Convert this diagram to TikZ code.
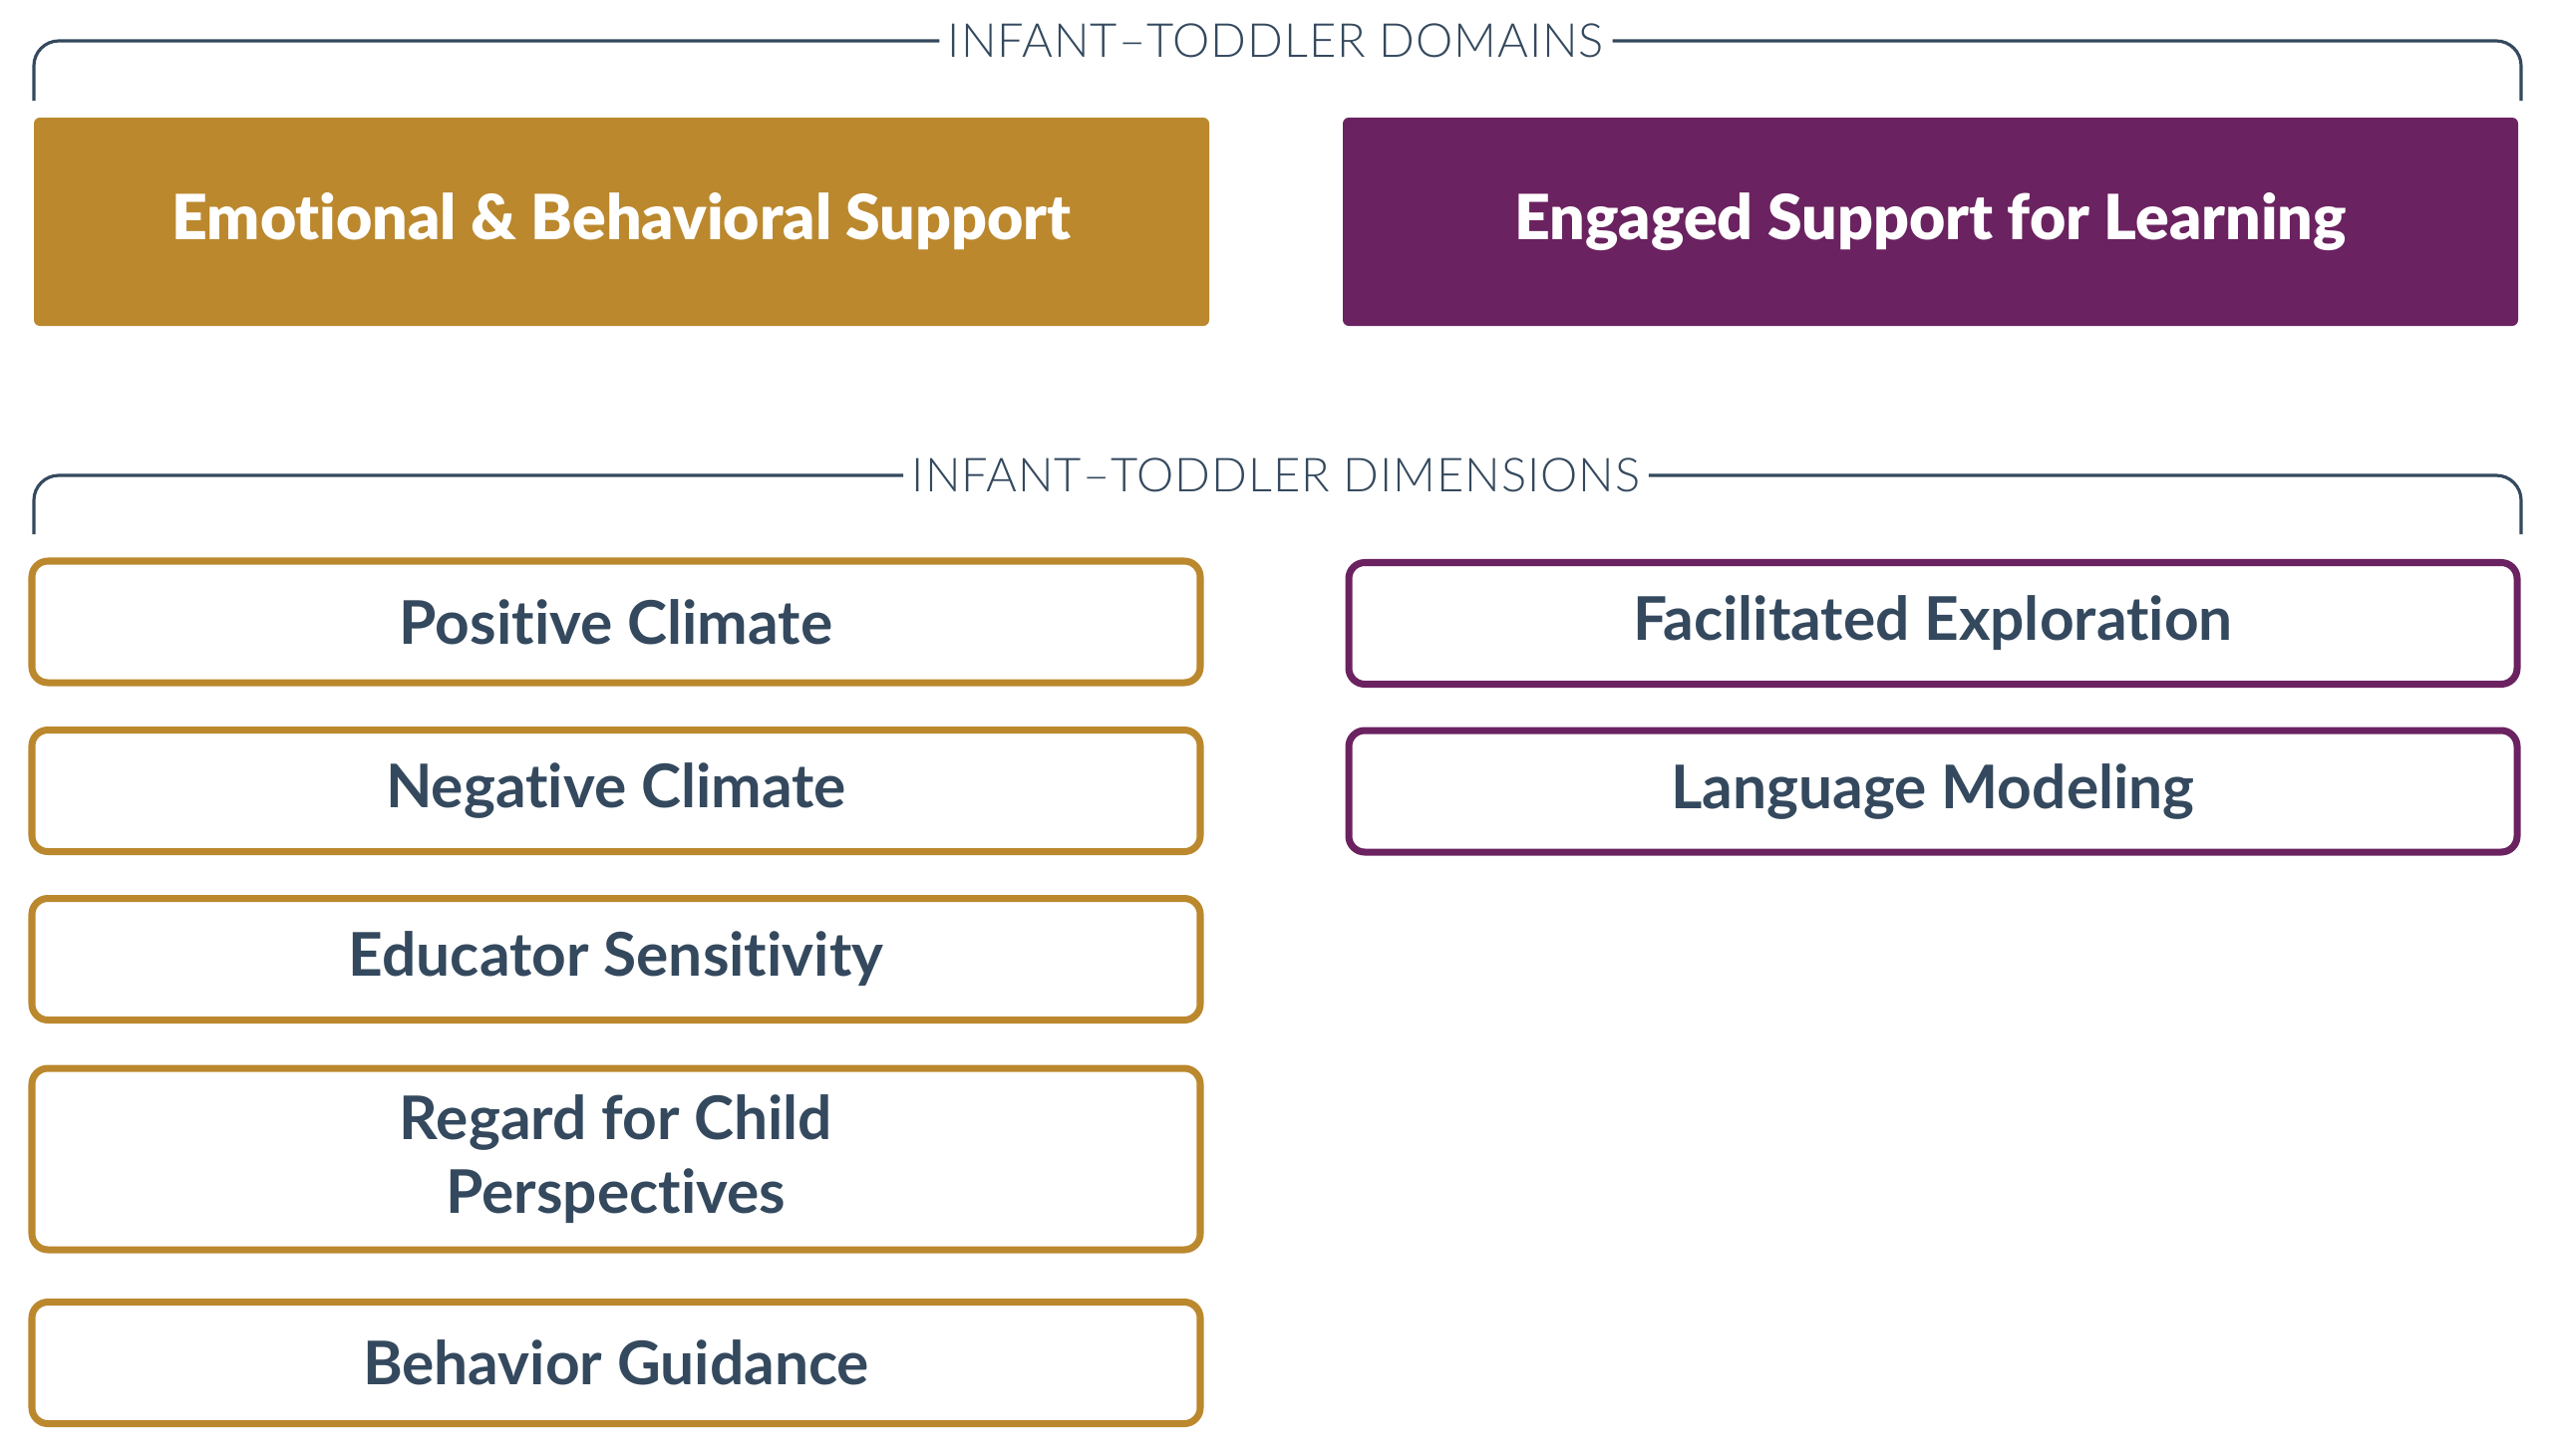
\documentclass[tikz,border=0pt]{standalone}
\usepackage{fontspec}
\setmainfont{Lato}[RawFeature=-liga]
\newfontfamily\latoheavy{Lato Black}[RawFeature=-liga]
\newfontfamily\latolight{Lato Light}[LetterSpace=2]
\usepackage{tikz}

\definecolor{gold}{HTML}{BB882E}
\definecolor{plum}{HTML}{6B2260}
\definecolor{slate}{HTML}{34495E}

\tikzset{
    header/.style={text=slate, font=\latolight\fontsize{13.4}{15}\selectfont, inner sep=0.08cm},
    bracket/.style={draw=slate, line width=0.9pt, rounded corners=0.25cm},
    domain/.style={fill=#1, rounded corners=0.06cm, minimum width=11.79cm, minimum height=2.09cm,
        text=white, font=\latoheavy\fontsize{17.8}{19}\selectfont},
    dimbox/.style={draw=#1, line width=2pt, rounded corners=0.16cm, minimum width=11.72cm,
        minimum height=1.22cm, align=center, text=slate, font=\fontsize{17.2}{21}\selectfont\bfseries}
}

\begin{document}
\begin{tikzpicture}
        \useasboundingbox (0,0) rectangle (25.6,-14.6);

        \draw (12.8,-0.41) node [header] (domlbl) {INFANT–TODDLER DOMAINS};
        \coordinate (domL) at (0.34,-1.01);
        \coordinate (domR) at (25.29,-1.01);
        \draw[bracket] (domlbl.west) -| (domL);
        \draw[bracket] (domlbl.east) -| (domR);

        \draw (6.235,-2.225) node [domain=gold] (emo) {Emotional \& Behavioral Support};
        \draw (19.365,-2.225) node [domain=plum] (eng) {Engaged Support for Learning};

        \draw (12.8,-4.77) node [header] (dimlbl) {INFANT–TODDLER DIMENSIONS};
        \coordinate (dimL) at (0.34,-5.36);
        \coordinate (dimR) at (25.29,-5.36);
        \draw[bracket] (dimlbl.west) -| (dimL);
        \draw[bracket] (dimlbl.east) -| (dimR);

        \draw (6.18,-6.24) node [dimbox=gold] (pos) {Positive Climate};
        \draw (6.18,-7.935) node [dimbox=gold] (neg) {Negative Climate};
        \draw (6.18,-9.625) node [dimbox=gold] (sens) {Educator Sensitivity};
        \draw (6.18,-11.63) node [dimbox=gold, minimum height=1.82cm] (regard) {Regard for Child\\Perspectives};
        \draw (6.18,-13.675) node [dimbox=gold] (guid) {Behavior Guidance};

        \draw (19.39,-6.255) node [dimbox=plum] (expl) {Facilitated Exploration};
        \draw (19.39,-7.94) node [dimbox=plum] (lang) {Language Modeling};
    \end{tikzpicture}
\end{document}
